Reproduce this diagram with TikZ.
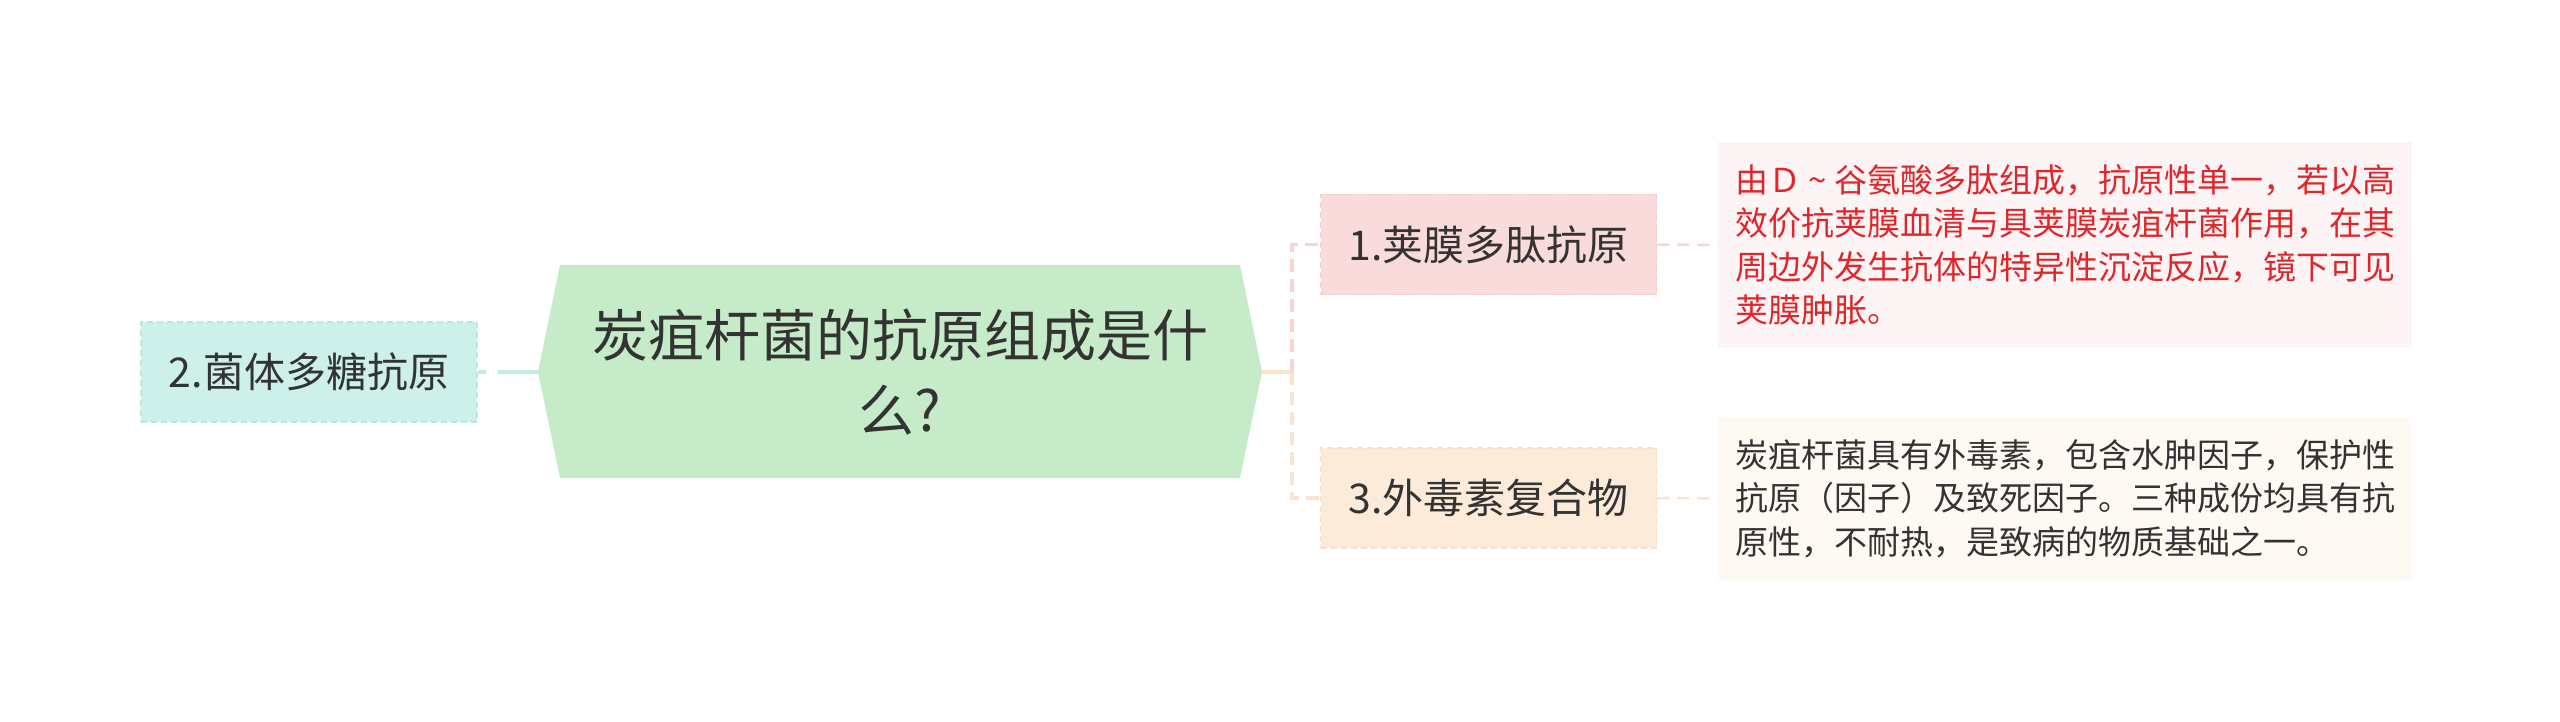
\documentclass[tikz,border=0pt]{standalone}
\usepackage{fontspec}
\setmainfont{Noto Sans CJK SC}
\definecolor{hexfill}{HTML}{C6EBC9}
\definecolor{tealfill}{HTML}{CDF0EA}
\definecolor{tealborder}{HTML}{BDE8E0}
\definecolor{tealline}{HTML}{C4ECE5}
\definecolor{pinkfill}{HTML}{FADBDB}
\definecolor{pinkborder}{HTML}{F6CCCC}
\definecolor{pinkline}{HTML}{F8D4D4}
\definecolor{peachfill}{HTML}{FDEBDA}
\definecolor{peachborder}{HTML}{FADFC8}
\definecolor{peachline}{HTML}{FBE3CF}
\definecolor{pinkbox}{HTML}{FDF5F5}
\definecolor{peachbox}{HTML}{FEF9F3}
\definecolor{redtext}{HTML}{E0262B}
\definecolor{darktext}{HTML}{333333}
\tikzset{
  topicbox/.style={rectangle, inner sep=0pt, minimum width=336pt, minimum height=100pt,
    line width=1.5pt, dash pattern=on 6pt off 4pt, text=darktext,
    font=\fontsize{41}{49}\selectfont},
  notebox/.style={rectangle, inner sep=0pt, minimum width=694pt, align=left,
    font=\fontsize{33}{43.5}\selectfont},
  thickconn/.style={line width=4pt},
  elbowconn/.style={line width=3.5pt, dash pattern=on 13pt off 7pt},
  noteconn/.style={line width=2.5pt, dash pattern=on 12pt off 8pt}
}
\begin{document}
\begin{tikzpicture}[x=1pt,y=-1pt]
\useasboundingbox (0,0) rectangle (2560,722);
% central hexagon
\coordinate (hexW) at (538,372);
\coordinate (hexE) at (1262,372);
\fill[hexfill] (hexW) -- (560,265) -- (1240,265) -- (hexE) -- (1240,478) -- (560,478) -- cycle;
\node[align=center, text=darktext, font=\fontsize{56}{75}\selectfont, inner sep=0pt] (title) at (900,372)
  {炭疽杆菌的抗原组成是什\\么?};
% topic nodes
\node[topicbox, fill=tealfill, draw=tealborder] (n2) at (309,372) {2.菌体多糖抗原};
\node[topicbox, fill=pinkfill, draw=pinkborder] (n1) at (1488.5,244.5) {1.荚膜多肽抗原};
\node[topicbox, fill=peachfill, draw=peachborder] (n3) at (1488.5,498) {3.外毒素复合物};
% note boxes
\node[notebox, fill=pinkbox, text=redtext, minimum height=206pt] (t1) at (2065,245)
  {由Ｄ\makebox[33pt]{\textasciitilde}谷氨酸多肽组成，抗原性单一，若以高\\效价抗荚膜血清与具荚膜炭疽杆菌作用，在其\\周边外发生抗体的特异性沉淀反应，镜下可见\\荚膜肿胀。};
\node[notebox, fill=peachbox, text=darktext, minimum height=163pt] (t3) at (2065,498.5)
  {炭疽杆菌具有外毒素，包含水肿因子，保护性\\抗原（因子）及致死因子。三种成份均具有抗\\原性，不耐热，是致病的物质基础之一。};
% connectors
\draw[thickconn, tealline, dash pattern=on 40pt off 12pt] (hexW) -- (n2.east);
\coordinate (jn) at (1292,372);
\draw[thickconn, peachline, line width=3.5pt] (hexE) -- (jn);
\draw[elbowconn, pinkline] (jn) |- (n1.west);
\draw[elbowconn, peachline] (jn) |- (n3.west);
\draw[noteconn, pinkline] (n1.east) -- (t1.west);
\draw[noteconn, peachline] (n3.east) -- (t3.west);
\end{tikzpicture}
\end{document}
